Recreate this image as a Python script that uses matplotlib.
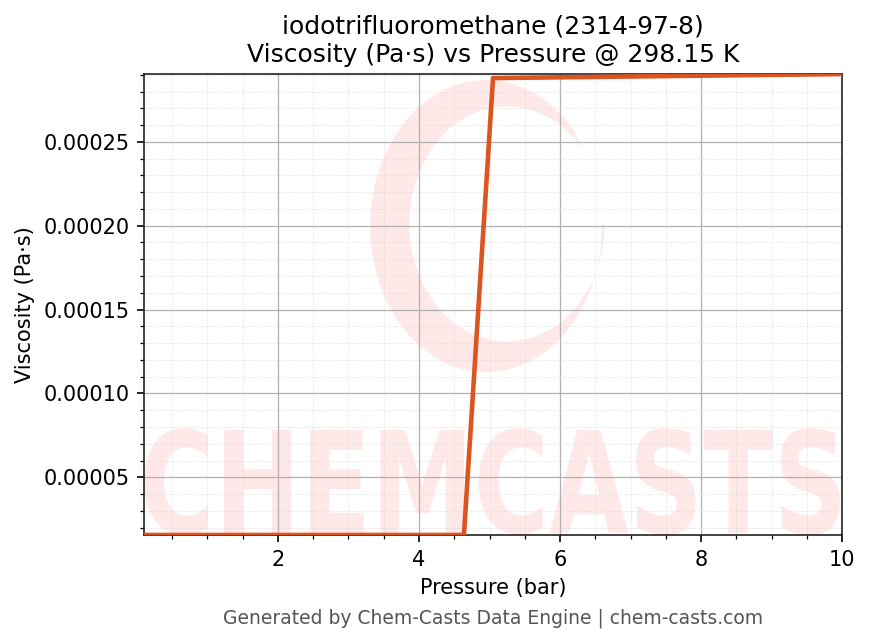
import matplotlib
matplotlib.use("Agg")
import matplotlib.pyplot as plt
from matplotlib.ticker import AutoMinorLocator
from matplotlib.textpath import TextPath
from matplotlib.font_manager import FontProperties
from matplotlib.patches import PathPatch, Polygon
from matplotlib.transforms import Affine2D
import numpy as np

# Données
pressure_bar = [0.1, 0.5125, 0.925, 1.3375, 1.75, 2.1625, 2.575, 2.9875, 3.4,
                3.8125, 4.225, 4.6375, 5.05, 5.4625, 5.875, 6.2875, 6.7, 7.1125,
                7.525, 7.9375, 8.35, 8.7625, 9.175, 9.5875, 10.0]
viscosity_pas = [1.56e-05, 1.56e-05, 1.56e-05, 1.56e-05, 1.56e-05, 1.56e-05,
                 1.56e-05, 1.56e-05, 1.56e-05, 1.56e-05, 1.56e-05, 1.56e-05,
                 2.880e-04, 2.882e-04, 2.884e-04, 2.886e-04, 2.888e-04, 2.890e-04,
                 2.892e-04, 2.894e-04, 2.896e-04, 2.898e-04, 2.900e-04, 2.902e-04,
                 2.904e-04]

title = "iodotrifluoromethane (2314-97-8)\nViscosity (Pa·s) vs Pressure @ 298.15 K"
footer = "Generated by Chem-Casts Data Engine | chem-casts.com"

fig = plt.figure(figsize=(869 / 150, 644 / 150), dpi=150)
ax = fig.add_axes([0.1657, 0.1693, 0.8033, 0.7157])

# Filigrane
wm = "#ff0000"
tp = TextPath((0, 0), "CHEMCASTS", prop=FontProperties(family="DejaVu Sans", weight="bold"))
ext = tp.get_extents()
sx = 0.997 / ext.width
sy = 0.232 / ext.height
tr = Affine2D().translate(-ext.x0, -ext.y0).scale(sx, sy) + ax.transAxes
ax.add_patch(PathPatch(tp, transform=tr, facecolor=wm, edgecolor="none", alpha=0.09, zorder=0))

t = np.linspace(np.radians(40), np.radians(360), 120)
outer = np.column_stack([0.49 + 0.166 * np.cos(t), 0.67 + 0.317 * np.sin(t)])
inner = np.column_stack([0.52 + 0.14 * np.cos(t), 0.675 + 0.255 * np.sin(t)])
ring = np.vstack([outer, inner[::-1]])
ax.add_patch(Polygon(ring, closed=True, transform=ax.transAxes, facecolor=wm,
                     edgecolor="none", alpha=0.09, zorder=0))

ax.plot(pressure_bar, viscosity_pas, color="#dc5420", linewidth=2.2, zorder=3)

ax.set_xlim(min(pressure_bar), max(pressure_bar))
ax.set_ylim(min(viscosity_pas), max(viscosity_pas))
ax.set_xticks([2, 4, 6, 8, 10])
ax.set_yticks([0.00005, 0.0001, 0.00015, 0.0002, 0.00025])
ax.set_yticklabels(["0.00005", "0.00010", "0.00015", "0.00020", "0.00025"])
ax.xaxis.set_minor_locator(AutoMinorLocator(4))
ax.yaxis.set_minor_locator(AutoMinorLocator(5))
ax.grid(True, which="major", color="#b0b0b0", linewidth=0.6)
ax.grid(True, which="minor", color="#d8d8d8", linewidth=0.4, linestyle=":")
ax.tick_params(labelsize=10)
for s in ax.spines.values():
    s.set_color("#222222")

ax.set_title(title, fontsize=12)
ax.set_xlabel("Pressure (bar)", fontsize=10)
ax.set_ylabel("Viscosity (Pa·s)", fontsize=10)
fig.text(0.567, 0.04, footer, ha="center", va="center", fontsize=9, color="#555555")

fig.savefig("out.png", dpi=150)
plt.close()
